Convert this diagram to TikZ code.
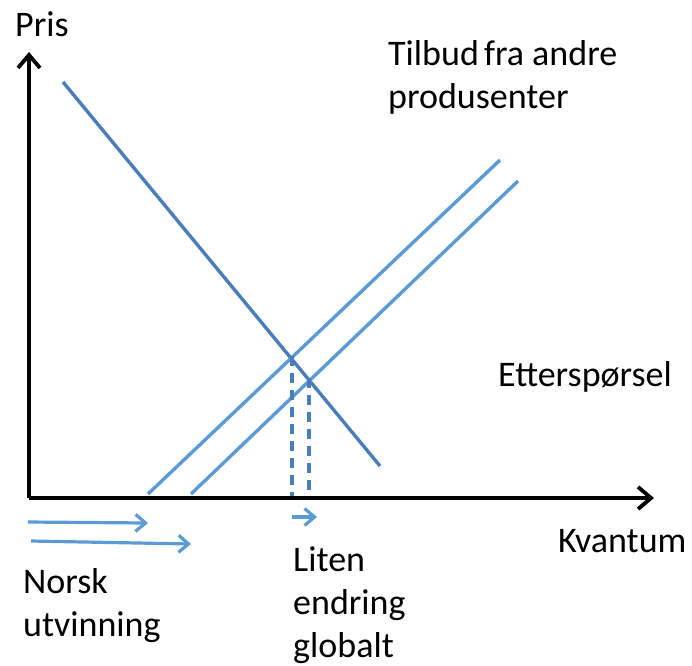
\documentclass[tikz,border=0pt]{standalone}
\usepackage{fontspec}
\setmainfont{Carlito}
\usetikzlibrary{arrows.meta}
\definecolor{dblue}{RGB}{74,126,187}
\definecolor{lblue}{RGB}{91,155,213}
\begin{document}
\begin{tikzpicture}[x=1pt,y=-1pt,
  axis/.style={line width=3.8pt,black,-{Straight Barb[length=13pt,width=22pt,line width=3.8pt]}},
  demand/.style={line width=3.4pt,dblue},
  supply/.style={line width=3.4pt,lblue},
  vdash/.style={line width=3.6pt,dblue,dash pattern=on 10pt off 7pt},
  shiftarr/.style={line width=3.2pt,lblue,-{Straight Barb[length=10pt,width=17pt,line width=3.2pt]}},
  lbl/.style={font=\fontsize{36}{43}\selectfont,anchor=base west,inner sep=0pt,align=left}]
\useasboundingbox (0,0) rectangle (692,665);
% axes
\coordinate (O) at (29,498);
\coordinate (ytop) at (29,52);
\coordinate (xend) at (654,498);
\draw[axis] (O) -- (ytop);
\draw[axis] (O) -- (xend);
% demand
\coordinate (d1) at (63,82);
\coordinate (d2) at (380,466);
\draw[demand] (d1) -- (d2);
% supplies
\coordinate (s1a) at (148,494);
\coordinate (s1b) at (500,160);
\coordinate (s2a) at (191,494);
\coordinate (s2b) at (518,181);
\draw[supply] (s1a) -- (s1b);
\draw[supply] (s2a) -- (s2b);
% intersections and dashed lines
\coordinate (i1) at (292,356);
\coordinate (i2) at (309,378);
\coordinate (b1) at (292,496);
\coordinate (b2) at (309,496);
\draw[vdash] (i1) -- (b1);
\draw[vdash] (i2) -- (b2);
% small shift arrow
\coordinate (sa1) at (292,517);
\coordinate (sa2) at (317,517);
\draw[shiftarr] (sa1) -- (sa2);
% Norsk arrows
\coordinate (n1a) at (28,522);
\coordinate (n1b) at (148,523);
\coordinate (n2a) at (31,541);
\coordinate (n2b) at (191,544);
\draw[shiftarr] (n1a) -- (n1b);
\draw[shiftarr] (n2a) -- (n2b);
% labels
\node[lbl] (pris) at (15,36) {Pris};
\node[lbl] (tilbud) at (388,108) {Tilbud\hspace{-3pt} fra andre\\produsenter};
\node[lbl] (ett) at (498,386) {Etterspørsel};
\node[lbl] (kv) at (558,552) {Kvantum};
\node[lbl] (norsk) at (23,636) {Norsk\\utvinning};
\node[lbl] (liten) at (293,657) {Liten\\endring\\globalt};
\end{tikzpicture}
\end{document}
